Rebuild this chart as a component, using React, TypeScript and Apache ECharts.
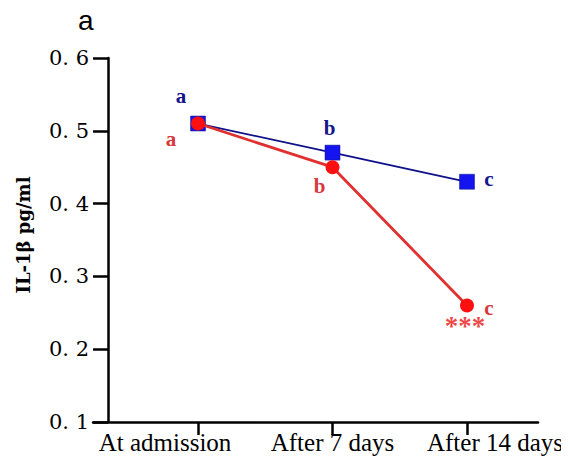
import React, { useEffect, useRef } from "react";
import * as echarts from "echarts";

const categories = ["At admission", "After 7 days", "After 14 days"];
const blueValues = [0.51, 0.47, 0.43];
const redValues = [0.51, 0.45, 0.26];
const blueLetters = ["a", "b", "c"];
const redLetters = ["a", "b", "c"];
const redStars = ["", "", "***"];
const yTicks = [0.1, 0.2, 0.3, 0.4, 0.5, 0.6];

const blueOffsets = [[-17, -28], [-3, -25], [22, -3]];
const redOffsets = [[-27, 15], [-13, 19], [22, 2]];
const labelStyles = ["first", "mid", "last"];

export default function App() {
  const ref = useRef<HTMLDivElement>(null);
  useEffect(() => {
    const chart = echarts.init(ref.current!, null, { renderer: "svg" });
    const letterFont = { fontFamily: "Liberation Serif", fontWeight: "bold", fontSize: 21 };
    const xFont = { fontFamily: "Liberation Serif", fontSize: 25, color: "#000" };
    chart.setOption({
      animation: false,
      backgroundColor: "#fff",
      title: {
        text: "a",
        left: 78,
        top: 6,
        padding: 0,
        textStyle: { fontFamily: "Liberation Sans", fontWeight: "normal", fontSize: 28, color: "#000" },
      },
      grid: { left: 93, right: 31, top: 58, bottom: 49 },
      xAxis: {
        type: "value",
        min: -0.781,
        max: 2.528,
        splitLine: { show: false },
        axisLine: { show: true, lineStyle: { color: "#000", width: 2.5 } },
        axisTick: { show: true, length: 13, lineStyle: { color: "#000", width: 2.5 }, customValues: [0, 1, 2] },
        axisLabel: {
          customValues: [0, 1, 2],
          hideOverlap: false,
          showMinLabel: true,
          showMaxLabel: true,
          formatter: (v: number) => {
            const i = Math.round(v);
            return categories[i] ? `{${labelStyles[i]}|${categories[i]}}` : "";
          },
          ...xFont,
          margin: 8,
          rich: {
            first: { ...xFont, padding: [0, 66, 0, 0] },
            mid: { ...xFont },
            last: { ...xFont, padding: [0, 0, 0, 56] },
          },
        },
      },
      yAxis: {
        type: "value",
        min: yTicks[0],
        max: yTicks[yTicks.length - 1],
        interval: 0.1,
        offset: -15,
        splitLine: { show: false },
        axisLine: { show: true, onZero: false, lineStyle: { color: "#000", width: 2.5 } },
        axisTick: { show: true, length: 15, lineStyle: { color: "#000", width: 2.5 } },
        axisLabel: {
          formatter: (v: number) => v.toFixed(1).replace(".", ". "),
          fontFamily: "DejaVu Serif",
          fontSize: 21,
          color: "#000",
          margin: 19,
        },
        name: "IL-1β pg/ml",
        nameLocation: "middle",
        nameRotate: 90,
        nameGap: 76,
        nameTextStyle: {
          fontFamily: "DejaVu Serif",
          fontWeight: "bold",
          fontSize: 18,
          color: "#000",
          padding: [0, 0, 0, 10],
        },
      },
      series: [
        {
          type: "line",
          data: blueValues.map((v, i) => ({
            value: [i, v],
            label: { show: true, formatter: blueLetters[i], position: "inside", offset: blueOffsets[i] },
          })),
          symbol: "rect",
          symbolSize: 15,
          lineStyle: { color: "#10108a", width: 1.8 },
          itemStyle: { color: "#1414ee", borderColor: "#10108a", borderWidth: 0.5 },
          label: { ...letterFont, color: "#14148c" },
          z: 2,
        },
        {
          type: "line",
          data: redValues.map((v, i) => ({
            value: [i, v],
            label: { show: true, formatter: redLetters[i], position: "inside", offset: redOffsets[i] },
          })),
          symbol: "circle",
          symbolSize: 14,
          lineStyle: { color: "#e0302f", width: 2.8 },
          itemStyle: { color: "#ff1010" },
          label: { ...letterFont, color: "#d8373c" },
          z: 3,
        },
        {
          type: "scatter",
          data: redValues
            .map((v, i) => ({ value: [i, v], s: redStars[i] }))
            .filter((d) => d.s)
            .map((d) => ({
              value: d.value,
              label: { show: true, formatter: d.s, position: "inside", offset: [-2, 20] },
            })),
          symbolSize: 1,
          itemStyle: { color: "transparent" },
          label: { fontFamily: "Liberation Serif", fontWeight: "bold", fontSize: 27, color: "#e81515" },
          z: 4,
        },
      ],
    });
    return () => chart.dispose();
  }, []);
  return <div ref={ref} style={{ width: 569, height: 471, margin: -8 }} />;
}
